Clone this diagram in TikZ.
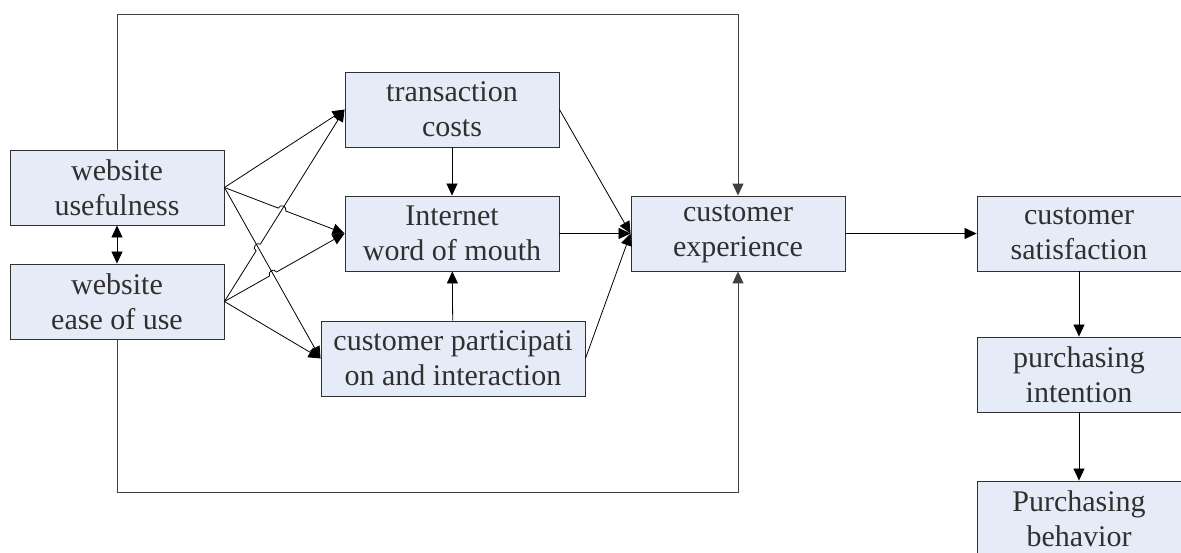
\documentclass[tikz,border=0pt]{standalone}
\usepackage{fontspec}
\setmainfont{Liberation Serif}
\usetikzlibrary{arrows.meta,calc,intersections}
\definecolor{boxfill}{HTML}{E6ECF7}
\definecolor{boxline}{HTML}{303030}
\begin{document}
\begin{tikzpicture}[>={Triangle[length=12pt,width=11pt]},x=1pt,y=-1pt,
    factor/.style={draw=boxline,fill=boxfill,text=boxline,line width=0.9pt,
      minimum width=214pt,minimum height=75pt,inner sep=0pt,align=center,
      font=\fontsize{30}{35}\selectfont},
    link/.style={->,line width=0.8pt},
    frame/.style={->,line width=1pt,draw=black!75},
    hop/.style={bend left=90,looseness=1.6}]
    \useasboundingbox (0,0) rectangle (1181,552);
    % constructs
    \node[factor] (useful) at (117,187.5) {website\\usefulness};
    \node[factor] (ease) at (117,301.5) {website\\ease of use};
    \node[factor] (trans) at (452,109.5) {transaction\\costs};
    \node[factor] (wom) at (452,233.5) {Internet\\word of mouth};
    \node[factor,minimum width=264pt] (part) at (453,358.5) {customer participati\\on and interaction};
    \node[factor] (exper) at (738,233.5) {customer\\experience};
    \node[factor,minimum width=204pt] (satis) at (1079,233.5) {customer\\satisfaction};
    \node[factor,minimum width=204pt] (intent) at (1079,374.5) {purchasing\\intention};
    \node[factor,minimum width=204pt] (behav) at (1079,518.5) {Purchasing\\behavior};
    % direct paths around the middle block
    \draw[frame] (useful.north) -- ++(0,-135) -| (exper.north);
    \draw[frame] (ease.south) -- ++(0,153) -| (exper.south);
    \draw[link,<->] (useful.south) -- (ease.north);
    % crossing lines, hops where they meet
    \path[name path=uw] (useful.east) -- (wom.west);
    \path[name path=up] (useful.east) -- (part.west);
    \path[name path=et] (ease.east) -- (trans.west);
    \path[name path=ew] (ease.east) -- (wom.west);
    \path[name intersections={of=uw and et,by=x1}];
    \path[name intersections={of=up and et,by=x2}];
    \path[name intersections={of=up and ew,by=x3}];
    \draw[link] (useful.east) -- (trans.west);
    \draw[link] (useful.east) -- ($(x1)!4pt!(useful.east)$) to[hop] ($(x1)!4pt!(wom.west)$) -- (wom.west);
    \draw[link] (useful.east) -- (part.west);
    \draw[link] (ease.east) -- ($(x2)!4pt!(ease.east)$) to[hop] ($(x2)!4pt!(trans.west)$) -- (trans.west);
    \draw[link] (ease.east) -- ($(x3)!4pt!(ease.east)$) to[hop] ($(x3)!4pt!(wom.west)$) -- (wom.west);
    \draw[link] (ease.east) -- (part.west);
    % mediators
    \draw[link] (trans) -- (wom);
    \draw[link] (part) -- (wom);
    \draw[link] (trans.east) -- (exper.west);
    \draw[link] (wom) -- (exper);
    \draw[link] (part.east) -- (exper.west);
    % outcomes
    \draw[link] (exper) -- (satis);
    \draw[link] (satis) -- (intent);
    \draw[link] (intent) -- (behav);
\end{tikzpicture}
\end{document}
